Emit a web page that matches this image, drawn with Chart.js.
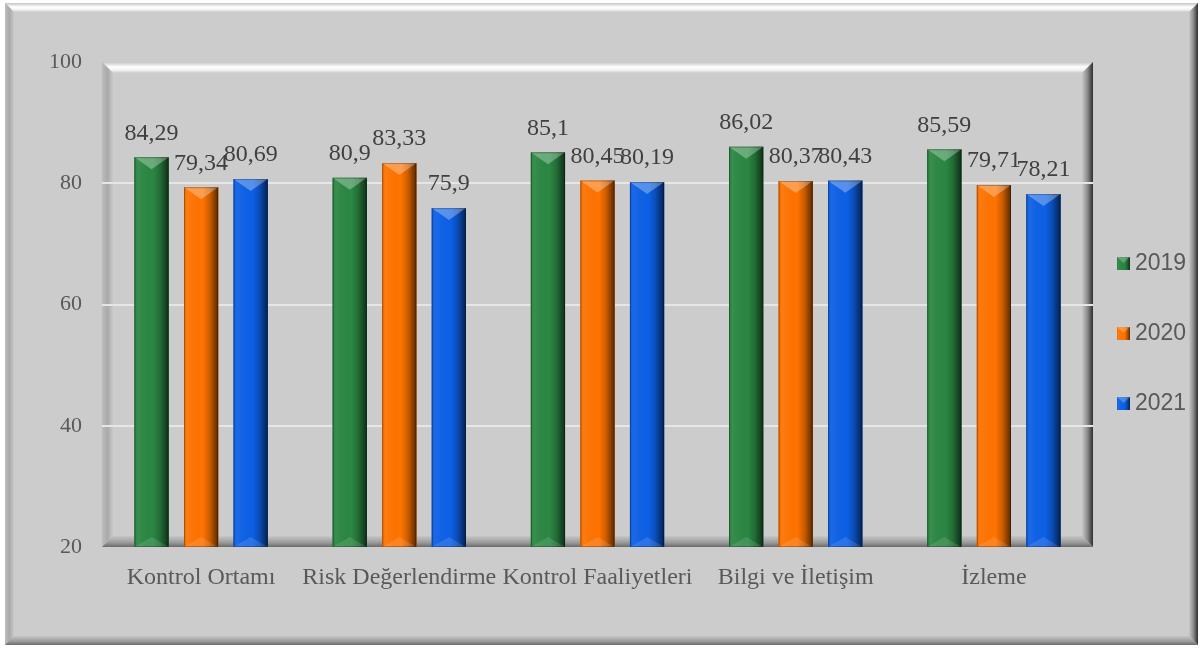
<!DOCTYPE html>
<html>
<head>
<meta charset="utf-8">
<script src="https://cdn.jsdelivr.net/npm/chart.js@4.4.0/dist/chart.umd.min.js"></script>
<style>
  body { margin: 0; background: #ffffff; }
  #wrap { width: 1202px; height: 648px; position: relative; }
</style>
</head>
<body>
<div id="wrap"><canvas id="grafik"></canvas></div>
<script>
// veri
const kategoriler = ["Kontrol Ortamı", "Risk Değerlendirme", "Kontrol Faaliyetleri", "Bilgi ve İletişim", "İzleme"];
const yillar = ["2019", "2020", "2021"];
const deger2019 = [84.29, 80.9, 85.1, 86.02, 85.59];
const deger2020 = [79.34, 83.33, 80.45, 80.37, 79.71];
const deger2021 = [80.69, 75.9, 80.19, 80.43, 78.21];
const yEksenTikleri = [20, 40, 60, 80, 100];

const renkler = ["#2b8743", "#ff7300", "#0d60e6"];
const serif = "'Liberation Serif', 'Times New Roman', serif";
const sans = "'Liberation Sans', Arial, sans-serif";

// kabartma cerceve
function bevel(ctx, x0, y0, x1, y1, w) {
  let g;
  // ust
  g = ctx.createLinearGradient(0, y0, 0, y0 + w);
  g.addColorStop(0, "#c4c4c4");
  g.addColorStop(0.45, "#ffffff");
  g.addColorStop(0.75, "#f2f2f2");
  g.addColorStop(1, "#cccccc");
  ctx.fillStyle = g;
  ctx.beginPath();
  ctx.moveTo(x0, y0); ctx.lineTo(x1, y0); ctx.lineTo(x1 - w, y0 + w); ctx.lineTo(x0 + w, y0 + w);
  ctx.closePath(); ctx.fill();
  // sol
  g = ctx.createLinearGradient(x0, 0, x0 + w, 0);
  g.addColorStop(0, "#bdbdbd");
  g.addColorStop(0.5, "#a9a9a9");
  g.addColorStop(1, "#c9c9c9");
  ctx.fillStyle = g;
  ctx.beginPath();
  ctx.moveTo(x0, y0); ctx.lineTo(x0 + w, y0 + w); ctx.lineTo(x0 + w, y1 - w); ctx.lineTo(x0, y1);
  ctx.closePath(); ctx.fill();
  // sag
  g = ctx.createLinearGradient(x1 - w, 0, x1, 0);
  g.addColorStop(0, "#c8c8c8");
  g.addColorStop(0.5, "#8a8a8a");
  g.addColorStop(1, "#2e2e2e");
  ctx.fillStyle = g;
  ctx.beginPath();
  ctx.moveTo(x1, y0); ctx.lineTo(x1, y1); ctx.lineTo(x1 - w, y1 - w); ctx.lineTo(x1 - w, y0 + w);
  ctx.closePath(); ctx.fill();
  // alt
  g = ctx.createLinearGradient(0, y1 - w, 0, y1);
  g.addColorStop(0, "#c6c6c6");
  g.addColorStop(0.6, "#9a9a9a");
  g.addColorStop(1, "#6a6a6a");
  ctx.fillStyle = g;
  ctx.beginPath();
  ctx.moveTo(x0, y1); ctx.lineTo(x0 + w, y1 - w); ctx.lineTo(x1 - w, y1 - w); ctx.lineTo(x1, y1);
  ctx.closePath(); ctx.fill();
}

function golgeliKutu(ctx, left, top, w, h, renk) {
  ctx.fillStyle = renk;
  ctx.fillRect(left, top, w, h);
  const g = ctx.createLinearGradient(left, 0, left + w, 0);
  g.addColorStop(0, "rgba(0,0,0,0.12)");
  g.addColorStop(0.1, "rgba(255,255,255,0.06)");
  g.addColorStop(0.55, "rgba(0,0,0,0)");
  g.addColorStop(0.75, "rgba(0,0,0,0.2)");
  g.addColorStop(1, "rgba(0,0,0,0.65)");
  ctx.fillStyle = g;
  ctx.fillRect(left, top, w, h);
}

const arkaPlan = {
  id: "arkaPlan",
  beforeDraw(chart) {
    const ctx = chart.ctx;
    const a = chart.chartArea;
    ctx.save();
    ctx.fillStyle = "#ffffff";
    ctx.fillRect(0, 0, chart.width, chart.height);
    ctx.fillStyle = "#cccccc";
    ctx.fillRect(5, 3, 1193, 642);
    bevel(ctx, 5, 3, 1198, 645, 9);
    bevel(ctx, a.left, a.top, a.right, a.bottom, 11);
    ctx.restore();
  },
  afterDatasetsDraw(chart) {
    const ctx = chart.ctx;
    const a = chart.chartArea;
    ctx.save();
    chart.data.datasets.forEach((ds, di) => {
      const meta = chart.getDatasetMeta(di);
      meta.data.forEach((bar, i) => {
        const w = bar.width;
        const left = bar.x - w / 2;
        const top = bar.y;
        const base = Math.min(bar.base, a.bottom);
        const h = base - top;
        golgeliKutu(ctx, left, top, w, h, renkler[di]);
        // ust ve alt uclar
        ctx.fillStyle = "rgba(255,255,255,0.3)";
        ctx.beginPath();
        ctx.moveTo(left, top); ctx.lineTo(left + w, top); ctx.lineTo(bar.x, top + 12);
        ctx.closePath(); ctx.fill();
        ctx.fillStyle = "rgba(255,255,255,0.12)";
        ctx.beginPath();
        ctx.moveTo(left, base); ctx.lineTo(left + w, base); ctx.lineTo(bar.x, base - 10);
        ctx.closePath(); ctx.fill();
        ctx.strokeStyle = "rgba(0,0,0,0.25)";
        ctx.lineWidth = 1;
        ctx.strokeRect(left + 0.5, top + 0.5, w - 1, h - 1);
        // deger etiketi
        ctx.fillStyle = "#404040";
        ctx.font = "24px " + serif;
        ctx.textAlign = "center";
        ctx.textBaseline = "middle";
        ctx.fillText(String(ds.data[i]).replace(".", ","), bar.x, top - 24);
      });
    });
    // lejant
    chart.data.datasets.forEach((ds, di) => {
      const yy = 263 + di * 70;
      golgeliKutu(ctx, 1117, yy - 6, 13, 13, renkler[di]);
      ctx.fillStyle = "rgba(255,255,255,0.25)";
      ctx.beginPath();
      ctx.moveTo(1117, yy - 6); ctx.lineTo(1130, yy - 6); ctx.lineTo(1123.5, yy);
      ctx.closePath(); ctx.fill();
      ctx.fillStyle = "#595959";
      ctx.font = "23px " + sans;
      ctx.textAlign = "left";
      ctx.textBaseline = "middle";
      ctx.fillText(ds.label, 1135, yy + 1);
    });
    ctx.restore();
  }
};

const seriler = [deger2019, deger2020, deger2021];

new Chart(document.getElementById("grafik"), {
  type: "bar",
  data: {
    labels: kategoriler,
    datasets: yillar.map((y, i) => ({
      label: y,
      data: seriler[i],
      backgroundColor: renkler[i],
      borderWidth: 0,
      barPercentage: 0.69,
      categoryPercentage: 0.75
    }))
  },
  options: {
    responsive: true,
    maintainAspectRatio: false,
    animation: false,
    layout: { padding: { left: 0, right: 109, top: 62, bottom: 0 } },
    plugins: {
      legend: { display: false },
      tooltip: { enabled: false }
    },
    scales: {
      x: {
        grid: { display: false, drawTicks: false },
        border: { display: false },
        ticks: { color: "#595959", font: { family: serif, size: 24 }, padding: 16, maxRotation: 0, autoSkip: false },
        afterFit(s) { s.height = 101; }
      },
      y: {
        min: 20,
        max: 100,
        afterBuildTicks(s) { s.ticks = yEksenTikleri.map(v => ({ value: v })); },
        grid: {
          drawTicks: false,
          lineWidth: 2,
          color: c => (c.tick && (c.tick.value === 20 || c.tick.value === 100)) ? "rgba(0,0,0,0)" : "#e6e6e6"
        },
        border: { display: false },
        ticks: { color: "#595959", font: { family: serif, size: 22 }, padding: 20 },
        afterFit(s) { s.width = 102; }
      }
    }
  },
  plugins: [arkaPlan]
});
</script>
</body>
</html>
